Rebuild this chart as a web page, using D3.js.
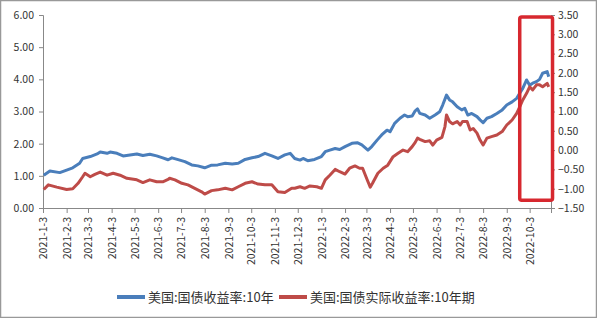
<!DOCTYPE html>
<html>
<head>
<meta charset="utf-8">
<script src="https://cdn.jsdelivr.net/npm/d3@7"></script>
<style>
  body { margin: 0; background: #fff; }
  svg { display: block; }
  text { font-family: "Noto Sans CJK SC", "Noto Sans", sans-serif; fill: #333; }
</style>
</head>
<body>
<svg id="chart" width="597" height="318"></svg>
<script>
// 美国:国债收益率:10年 (left axis)
const nominalDates = ['2021-01-04','2021-01-12','2021-01-25','2021-02-03','2021-02-11','2021-02-20','2021-02-24','2021-03-06','2021-03-15','2021-03-19','2021-03-28','2021-04-01','2021-04-10','2021-04-18','2021-04-27','2021-05-06','2021-05-14','2021-05-23','2021-06-01','2021-06-09','2021-06-16','2021-06-21','2021-06-28','2021-07-08','2021-07-17','2021-07-25','2021-08-03','2021-08-12','2021-08-20','2021-08-30','2021-09-08','2021-09-16','2021-09-25','2021-10-04','2021-10-12','2021-10-21','2021-10-30','2021-11-07','2021-11-16','2021-11-23','2021-11-29','2021-12-06','2021-12-10','2021-12-16','2021-12-25','2022-01-03','2022-01-08','2022-01-14','2022-01-21','2022-01-27','2022-02-03','2022-02-12','2022-02-19','2022-02-25','2022-03-05','2022-03-10','2022-03-17','2022-03-23','2022-03-30','2022-04-03','2022-04-09','2022-04-16','2022-04-22','2022-04-26','2022-05-02','2022-05-06','2022-05-09','2022-05-12','2022-05-19','2022-05-25','2022-06-01','2022-06-07','2022-06-11','2022-06-16','2022-06-20','2022-06-24','2022-06-30','2022-07-06','2022-07-10','2022-07-14','2022-07-19','2022-07-26','2022-07-30','2022-08-03','2022-08-08','2022-08-14','2022-08-21','2022-08-28','2022-09-03','2022-09-10','2022-09-16','2022-09-20','2022-09-24','2022-09-29','2022-10-03','2022-10-07','2022-10-12','2022-10-16','2022-10-20','2022-10-26','2022-10-28'];
const nominalValues = [1.02,1.15,1.10,1.18,1.25,1.39,1.54,1.60,1.68,1.74,1.70,1.74,1.70,1.62,1.65,1.68,1.63,1.67,1.62,1.56,1.50,1.56,1.51,1.44,1.34,1.31,1.25,1.33,1.34,1.39,1.37,1.39,1.51,1.56,1.60,1.70,1.62,1.54,1.65,1.70,1.54,1.49,1.54,1.47,1.51,1.60,1.75,1.80,1.85,1.82,1.91,2.01,2.03,1.96,1.80,1.91,2.11,2.27,2.42,2.37,2.63,2.79,2.89,2.84,2.86,3.02,3.08,2.94,2.89,2.79,2.89,2.99,3.20,3.51,3.36,3.30,3.15,3.05,3.10,2.89,2.94,2.84,2.74,2.65,2.79,2.84,2.94,3.05,3.20,3.30,3.41,3.57,3.72,3.98,3.82,3.88,3.93,4.00,4.19,4.24,4.08];

// 美国:国债实际收益率:10年期 (right axis)
const realDates = ['2021-01-04','2021-01-10','2021-01-21','2021-02-03','2021-02-11','2021-02-18','2021-02-24','2021-02-27','2021-03-06','2021-03-12','2021-03-19','2021-03-28','2021-04-05','2021-04-14','2021-04-23','2021-05-06','2021-05-14','2021-05-23','2021-06-01','2021-06-09','2021-06-16','2021-06-18','2021-06-25','2021-07-04','2021-07-12','2021-07-21','2021-07-30','2021-08-03','2021-08-12','2021-08-20','2021-08-30','2021-09-08','2021-09-16','2021-09-25','2021-10-04','2021-10-12','2021-10-21','2021-10-30','2021-11-07','2021-11-16','2021-11-25','2021-11-29','2021-12-06','2021-12-12','2021-12-19','2021-12-28','2022-01-03','2022-01-08','2022-01-14','2022-01-21','2022-01-27','2022-02-03','2022-02-09','2022-02-16','2022-02-22','2022-02-26','2022-03-04','2022-03-08','2022-03-11','2022-03-18','2022-03-25','2022-03-31','2022-04-07','2022-04-13','2022-04-20','2022-04-26','2022-05-02','2022-05-06','2022-05-09','2022-05-12','2022-05-19','2022-05-25','2022-05-29','2022-06-03','2022-06-10','2022-06-14','2022-06-16','2022-06-20','2022-06-24','2022-06-30','2022-07-04','2022-07-07','2022-07-13','2022-07-17','2022-07-21','2022-07-26','2022-07-30','2022-08-03','2022-08-08','2022-08-14','2022-08-21','2022-08-28','2022-09-03','2022-09-10','2022-09-16','2022-09-20','2022-09-24','2022-09-29','2022-10-03','2022-10-07','2022-10-12','2022-10-16','2022-10-20','2022-10-26','2022-10-28'];
const realValues = [-1.02,-0.90,-0.96,-1.02,-1.00,-0.86,-0.69,-0.60,-0.69,-0.63,-0.57,-0.65,-0.60,-0.65,-0.73,-0.77,-0.84,-0.77,-0.82,-0.82,-0.76,-0.73,-0.77,-0.86,-0.90,-0.99,-1.08,-1.14,-1.05,-1.03,-0.99,-1.03,-0.95,-0.86,-0.82,-0.88,-0.90,-0.90,-1.08,-1.10,-0.99,-0.99,-0.95,-0.99,-0.93,-0.95,-0.99,-0.77,-0.65,-0.50,-0.56,-0.62,-0.47,-0.41,-0.47,-0.47,-0.77,-0.96,-0.86,-0.60,-0.47,-0.39,-0.17,-0.09,0.00,-0.04,0.09,0.20,0.31,0.28,0.22,0.24,0.13,0.26,0.33,0.61,0.91,0.74,0.68,0.74,0.65,0.74,0.74,0.52,0.56,0.44,0.26,0.13,0.31,0.35,0.39,0.48,0.65,0.78,0.95,1.12,1.30,1.47,1.64,1.56,1.69,1.69,1.64,1.73,1.64];

const leftTicks = [0, 1, 2, 3, 4, 5, 6];
const rightTicks = [-1.5, -1, -0.5, 0, 0.5, 1, 1.5, 2, 2.5, 3, 3.5];
const seriesNames = ['美国:国债收益率:10年', '美国:国债实际收益率:10年期'];
const seriesColors = ['#4a7ebb', '#be4b48'];

const parse = d3.timeParse('%Y-%m-%d');
const nominal = nominalDates.map((d, i) => ({ date: parse(d), value: nominalValues[i] }));
const real = realDates.map((d, i) => ({ date: parse(d), value: realValues[i] }));

const svg = d3.select('#chart');
const W = 597, H = 318;
const plotLeft = 43, plotRight = 551, plotTop = 15, plotBottom = 208;

// outer frame
svg.append('rect')
  .attr('x', 0.5).attr('y', 0.5)
  .attr('width', W - 1).attr('height', H - 1)
  .attr('fill', '#fff').attr('stroke', '#999').attr('stroke-width', 1.5);

const x = d3.scaleTime()
  .domain([parse('2021-01-03'), parse('2022-10-31')])
  .range([plotLeft, plotRight]);
const yL = d3.scaleLinear().domain([0, 6]).range([plotBottom, plotTop]);
const yR = d3.scaleLinear().domain([-1.5, 3.5]).range([plotBottom, plotTop]);

const monthTicks = d3.timeMonth.range(parse('2021-01-01'), parse('2022-11-01'))
  .map(d => new Date(d.getFullYear(), d.getMonth(), 3));
const fmtDate = d => `${d.getFullYear()}-${d.getMonth() + 1}-${d.getDate()}`;

const axisColor = '#888';
const axisFont = '"DejaVu Sans", Verdana, sans-serif';

// left axis
const gL = svg.append('g').attr('transform', `translate(${plotLeft},0)`)
  .call(d3.axisLeft(yL).tickValues(leftTicks).tickFormat(d3.format('.2f')).tickSize(4).tickPadding(5));
// right axis
const gR = svg.append('g').attr('transform', `translate(${plotRight},0)`)
  .call(d3.axisRight(yR).tickValues(rightTicks).tickFormat(d3.format('.2f')).tickSize(4).tickPadding(3));
// bottom axis
const gX = svg.append('g').attr('transform', `translate(0,${plotBottom})`)
  .call(d3.axisBottom(x).tickValues(monthTicks).tickFormat(fmtDate).tickSize(5));
gX.selectAll('text')
  .attr('transform', 'rotate(-90)')
  .attr('x', -9).attr('y', 0).attr('dy', '0.35em')
  .style('text-anchor', 'end');

[gL, gR, gX].forEach(g => {
  g.select('.domain').attr('stroke', axisColor);
  g.selectAll('.tick line').attr('stroke', axisColor);
  g.selectAll('text').attr('font-size', 10.5).attr('fill', '#333')
    .attr('font-family', axisFont);
});

// lines
const lineL = d3.line().x(d => x(d.date)).y(d => yL(d.value));
const lineR = d3.line().x(d => x(d.date)).y(d => yR(d.value));

svg.append('path').datum(nominal)
  .attr('d', lineL).attr('fill', 'none')
  .attr('stroke', seriesColors[0]).attr('stroke-width', 3).attr('stroke-linejoin', 'round');
svg.append('path').datum(real)
  .attr('d', lineR).attr('fill', 'none')
  .attr('stroke', seriesColors[1]).attr('stroke-width', 3).attr('stroke-linejoin', 'round');

// highlight box over the last weeks
svg.append('rect')
  .attr('x', x(parse('2022-09-20'))).attr('y', yR(3.45))
  .attr('width', x(parse('2022-11-02')) - x(parse('2022-09-20')))
  .attr('height', yR(-1.3) - yR(3.45))
  .attr('rx', 2)
  .attr('fill', 'none').attr('stroke', '#d7282f').attr('stroke-width', 3.5);

// legend
const legend = svg.append('g').attr('transform', 'translate(0,297)');
const legendItems = [{ x: 117 }, { x: 279 }];
legendItems.forEach((it, i) => {
  legend.append('line')
    .attr('x1', it.x).attr('x2', it.x + 28).attr('y1', 0).attr('y2', 0)
    .attr('stroke', seriesColors[i]).attr('stroke-width', 4);
  legend.append('text')
    .attr('x', it.x + 31).attr('y', 0).attr('dy', '0.35em')
    .attr('font-size', 13).text(seriesNames[i]);
});
</script>
</body>
</html>
